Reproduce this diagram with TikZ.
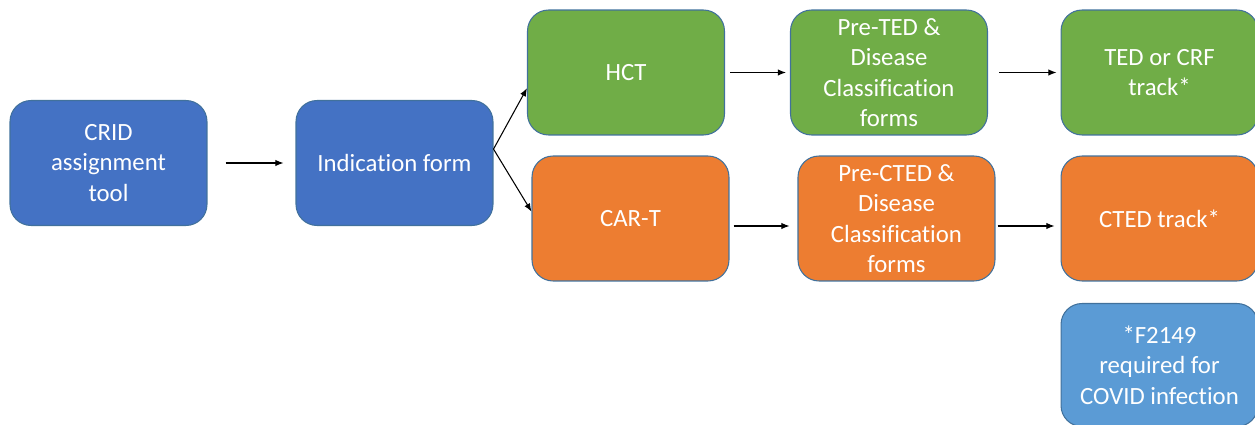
\documentclass[tikz,border=0pt]{standalone}
\usepackage{fontspec}
\setmainfont{Carlito}[Ligatures={NoCommon}]
\usepackage{tikz}
\usetikzlibrary{arrows.meta,calc}
\definecolor{boxblue}{HTML}{4472C4}
\definecolor{boxgreen}{HTML}{70AD47}
\definecolor{boxorange}{HTML}{ED7D31}
\definecolor{boxlight}{HTML}{5B9BD5}
\definecolor{boxedge}{HTML}{41719C}
\tikzset{
    formbox/.style={rectangle,rounded corners=0.42cm,draw=boxedge,line width=0.6pt,
        minimum width=3.94cm,minimum height=2.5cm,align=center,text=white,
        font=\fontsize{14.1}{17.4}\selectfont},
    flow/.style={->,line width=0.6pt,black}
}
\begin{document}
\begin{tikzpicture}[x=0.02cm,y=-0.02cm]
\useasboundingbox (0,0) rectangle (1255,425);
\begin{scope}[every node/.style={formbox}]
    \node[fill=boxblue] (crid) at (108.5,163) {CRID\\assignment\\tool};
    \node[fill=boxblue] (ind) at (394.5,163) {Indication form};
    \node[fill=boxgreen] (hct) at (626,72.5) {HCT};
    \node[fill=boxorange] (cart) at (630.5,218.5) {CAR-T};
    \node[fill=boxgreen] (preted) at (889,72.5) {Pre-TED \&\\Disease\\Classification\\forms};
    \node[fill=boxorange] (prected) at (896.5,218.5) {Pre-CTED \&\\Disease\\Classification\\forms};
    \node[fill=boxgreen] (ted) at (1159.5,72.5) {TED or CRF\\track*};
    \node[fill=boxorange] (cted) at (1159.5,218.5) {CTED track*};
    \node[fill=boxlight,minimum height=2.46cm] (covid) at (1159.5,365) {*F2149\\required for\\COVID infection};
\end{scope}
\begin{scope}[>={Latex[length=4.6pt,width=3.6pt]}]
\draw [flow,shorten <=0.36cm,shorten >=0.24cm] (crid) -- (ind);
\draw [flow] (ind.8) -- (hct.189);
\draw [flow] (ind.8) -- (cart.176);
\draw [flow,shorten <=0.1cm,shorten >=0.08cm] (hct) -- (preted);
\draw [flow,shorten <=0.08cm,shorten >=0.16cm] ([yshift=-0.15cm]cart.east) -- ([yshift=-0.15cm]prected.west);
\draw [flow,shorten <=0.22cm,shorten >=0.08cm] (preted) -- (ted);
\draw [flow,shorten <=0.04cm,shorten >=0.12cm] ([yshift=-0.15cm]prected.east) -- ([yshift=-0.15cm]cted.west);
\end{scope}
\end{tikzpicture}
\end{document}
